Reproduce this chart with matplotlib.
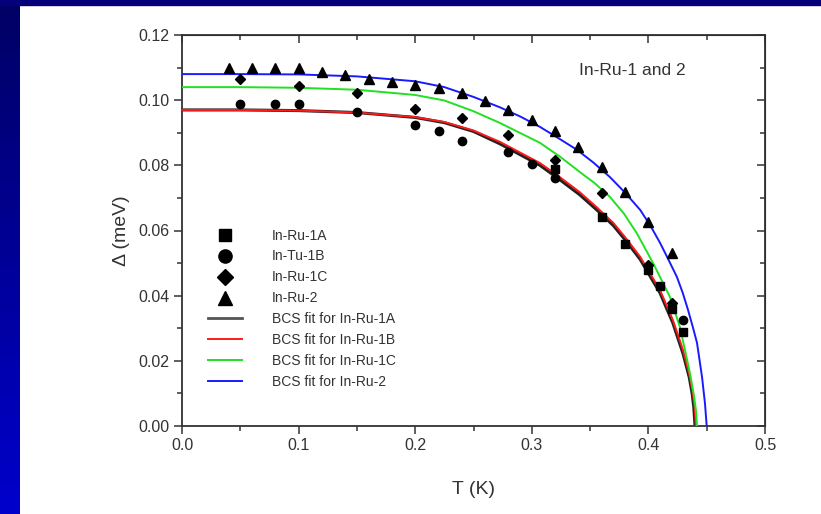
import numpy as np
import matplotlib.pyplot as plt
from matplotlib.lines import Line2D

plt.rcParams['font.family'] = ['Liberation Sans', 'DejaVu Sans']

# measured gaps (K, meV)
T_1A = [0.32, 0.36, 0.38, 0.40, 0.41, 0.42, 0.43]
D_1A = [0.079, 0.064, 0.056, 0.048, 0.043, 0.036, 0.029]

T_1B = [0.05, 0.08, 0.10, 0.15, 0.20, 0.22, 0.24, 0.28, 0.30, 0.32, 0.43]
D_1B = [0.0988, 0.0988, 0.0988, 0.0964, 0.0924, 0.0905, 0.0875, 0.084, 0.0804, 0.0761, 0.0325]

T_1C = [0.05, 0.10, 0.15, 0.20, 0.24, 0.28, 0.32, 0.36, 0.40, 0.42]
D_1C = [0.1065, 0.1043, 0.1022, 0.0973, 0.0945, 0.0893, 0.0816, 0.0715, 0.0494, 0.0377]

T_2 = [0.04, 0.06, 0.08, 0.10, 0.12, 0.14, 0.16, 0.18, 0.20, 0.22, 0.24, 0.26,
       0.28, 0.30, 0.32, 0.34, 0.36, 0.38, 0.40, 0.42]
D_2 = [0.1099, 0.1099, 0.1099, 0.1099, 0.1086, 0.1077, 0.1065, 0.1056, 0.1047, 0.1037,
       0.1022, 0.0997, 0.097, 0.0939, 0.0905, 0.0856, 0.0795, 0.0718, 0.0626, 0.0531]

# BCS fit curves
fitT_1B = [0.0, 0.05, 0.10, 0.15, 0.20, 0.225, 0.25, 0.2727, 0.307, 0.324, 0.341, 0.3555,
           0.370, 0.3815, 0.393, 0.41, 0.421, 0.4297, 0.435, 0.438, 0.4398, 0.4408]
fitD_1B = [0.0970, 0.0970, 0.0968, 0.0962, 0.0948, 0.0933, 0.0907, 0.0872, 0.0807, 0.0764, 0.0718, 0.0672,
           0.0623, 0.0573, 0.0519, 0.0417, 0.0325, 0.0233, 0.0160, 0.0105, 0.0055, 0.0]

fitT_1A = [0.0, 0.05, 0.10, 0.15, 0.20, 0.225, 0.25, 0.2727, 0.307, 0.324, 0.341, 0.3555,
           0.370, 0.3815, 0.393, 0.41, 0.421, 0.4297, 0.435, 0.4375, 0.439, 0.4400]
fitD_1A = [0.0970, 0.0970, 0.0968, 0.0962, 0.0947, 0.0931, 0.0904, 0.0866, 0.0800, 0.0756, 0.0710, 0.0664,
           0.0615, 0.0565, 0.0511, 0.0408, 0.0316, 0.0222, 0.0150, 0.0100, 0.0055, 0.0]

fitT_1C = [0.0, 0.05, 0.10, 0.15, 0.20, 0.225, 0.25, 0.2727, 0.307, 0.324, 0.341, 0.354, 0.367,
           0.379, 0.390, 0.404, 0.4185, 0.427, 0.4314, 0.436, 0.439, 0.4407, 0.4417]
fitD_1C = [0.1040, 0.1040, 0.1038, 0.1032, 0.1016, 0.0999, 0.0966, 0.0930, 0.0869, 0.0827, 0.0780, 0.0745, 0.0703,
           0.0652, 0.0592, 0.0500, 0.0396, 0.0304, 0.0233, 0.0155, 0.0095, 0.0050, 0.0]

fitT_2 = [0.0, 0.05, 0.10, 0.15, 0.20, 0.225, 0.25, 0.2727, 0.29, 0.307, 0.323, 0.339, 0.353, 0.367,
          0.380, 0.393, 0.402, 0.41, 0.417, 0.4245, 0.4295, 0.434, 0.438, 0.4417, 0.446, 0.4485, 0.4500]
fitD_2 = [0.1080, 0.1080, 0.1079, 0.1073, 0.1058, 0.1040, 0.1010, 0.0978, 0.0950, 0.0918, 0.0883, 0.0847, 0.0808, 0.0764,
          0.0716, 0.0663, 0.0613, 0.0562, 0.0512, 0.0457, 0.0408, 0.0356, 0.0305, 0.0255, 0.0150, 0.0070, 0.0]

data_labels = ['In-Ru-1A', 'In-Tu-1B', 'In-Ru-1C', 'In-Ru-2']
fit_labels = ['BCS fit for In-Ru-1A', 'BCS fit for In-Ru-1B',
              'BCS fit for In-Ru-1C', 'BCS fit for In-Ru-2']

fig = plt.figure(figsize=(8.21, 5.14), dpi=100)
fig.patch.set_facecolor('white')

# slide-style blue frame: gradient strip on the left, dark band at the top
strip = fig.add_axes([0, 0, 20 / 821, 1])
grad = np.linspace(0, 1, 256)
rgb = np.zeros((256, 1, 3))
rgb[:, 0, 2] = 0.39 + 0.41 * grad
strip.imshow(rgb, aspect='auto', origin='upper', extent=[0, 1, 0, 1])
strip.axis('off')
fig.patches.append(plt.Rectangle((0, 1 - 5 / 514), 1, 5 / 514, transform=fig.transFigure,
                                 color='#05007a', zorder=5))

ax = fig.add_axes([182 / 821, 1 - 426 / 514, 583 / 821, 391 / 514])

ax.plot(fitT_1A, fitD_1A, color='#222222', lw=2.2, zorder=2)
ax.plot(fitT_1B, fitD_1B, color='#ff1a1a', lw=1.4, zorder=3)
ax.plot(fitT_1C, fitD_1C, color='#22e022', lw=1.4, zorder=3)
ax.plot(fitT_2, fitD_2, color='#1a1aff', lw=1.4, zorder=3)

ax.plot(T_1A, D_1A, 's', color='black', ms=6, zorder=4)
ax.plot(T_1B, D_1B, 'o', color='black', ms=6, zorder=4)
ax.plot(T_1C, D_1C, 'D', color='black', ms=5.5, zorder=4)
ax.plot(T_2, D_2, '^', color='black', ms=7, zorder=4)

ax.set_xlim(0, 0.5)
ax.set_ylim(0, 0.12)
ax.set_xticks(np.arange(0, 0.51, 0.1))
ax.set_xticks(np.arange(0.05, 0.5, 0.1), minor=True)
ax.set_yticks(np.arange(0, 0.121, 0.02))
ax.set_yticks(np.arange(0.01, 0.12, 0.02), minor=True)
ax.set_xticklabels(['0.0', '0.1', '0.2', '0.3', '0.4', '0.5'])
ax.set_yticklabels(['0.00', '0.02', '0.04', '0.06', '0.08', '0.10', '0.12'])

for s in ax.spines.values():
    s.set_color('#333333')
    s.set_linewidth(1.3)
ax.tick_params(which='both', direction='out', colors='#333333', labelsize=11.5, width=1.1)
ax.tick_params(which='major', length=6)
ax.tick_params(which='minor', length=3.5)
ax.tick_params(axis='x', pad=3)
ax.tick_params(axis='y', pad=3)

# inward ticks on the top and right edges
top = ax.secondary_xaxis('top')
top.set_xticks(np.arange(0, 0.51, 0.1))
top.set_xticks(np.arange(0.05, 0.5, 0.1), minor=True)
top.tick_params(which='both', direction='in', labeltop=False, colors='#333333', width=1.1)
top.tick_params(which='major', length=6)
top.tick_params(which='minor', length=3.5)
right = ax.secondary_yaxis('right')
right.set_yticks(np.arange(0, 0.121, 0.02))
right.set_yticks(np.arange(0.01, 0.12, 0.02), minor=True)
right.tick_params(which='both', direction='in', labelright=False, colors='#333333', width=1.1)
right.tick_params(which='major', length=6)
right.tick_params(which='minor', length=3.5)

ax.set_xlabel('T (K)', fontsize=14, color='#333333', labelpad=20)
ax.set_ylabel('Δ (meV)', fontsize=14, color='#333333', labelpad=6)

ax.text(0.772, 0.91, 'In-Ru-1 and 2', transform=ax.transAxes, ha='center', va='center',
        fontsize=12.5, color='#333333')

handles = [
    Line2D([], [], marker='s', ls='none', color='black', ms=9),
    Line2D([], [], marker='o', ls='none', color='black', ms=9.5),
    Line2D([], [], marker='D', ls='none', color='black', ms=8),
    Line2D([], [], marker='^', ls='none', color='black', ms=10),
    Line2D([], [], color='#555555', lw=2),
    Line2D([], [], color='#ff1a1a', lw=1.4),
    Line2D([], [], color='#22e022', lw=1.4),
    Line2D([], [], color='#1a1aff', lw=1.4),
]
leg = ax.legend(handles, data_labels + fit_labels, loc='upper left',
                bbox_to_anchor=(0.045, 0.505), frameon=False, fontsize=10,
                handlelength=2.4, handletextpad=2.2, labelspacing=0.5,
                borderpad=0, borderaxespad=0)
for t in leg.get_texts():
    t.set_color('#333333')

fig.savefig('out.png', dpi=100)
